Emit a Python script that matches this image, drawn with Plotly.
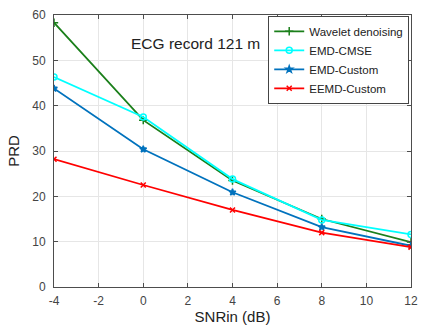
import plotly.graph_objects as go

snr = [-4, 0, 4, 8, 12]
wavelet = [58.3, 36.8, 23.5, 15.0, 9.9]
emd_cmse = [46.3, 37.5, 23.8, 14.8, 11.6]
emd_custom = [43.8, 30.4, 20.9, 13.2, 9.1]
eemd_custom = [28.2, 22.5, 17.0, 12.0, 8.8]

x_ticks = [-4, -2, 0, 2, 4, 6, 8, 10, 12]
x_ticktext = ["-4", "-2", "0", "2", "4", "6", "8", "10", "12"]
y_ticks = [0, 10, 20, 30, 40, 50, 60]

series = [
    ("Wavelet denoising", wavelet, "#1a7f1a", "cross-thin-open", 6),
    ("EMD-CMSE", emd_cmse, "#00ffff", "circle-open", 6),
    ("EMD-Custom", emd_custom, "#0072BD", "star", 5),
    ("EEMD-Custom", eemd_custom, "#ff0000", "x-thin-open", 5),
]

fig = go.Figure()
for name, ys, col, sym, sz in series:
    fig.add_trace(go.Scatter(
        x=snr, y=ys, name=name, mode="lines+markers",
        line=dict(color=col, width=1.8),
        marker=dict(symbol=sym, size=sz, color=col, line=dict(color=col, width=1.5)),
    ))

axcol = "#4d4d4d"
fig.update_layout(
    width=426, height=331,
    margin=dict(l=54, r=8, t=14, b=41),
    paper_bgcolor="white", plot_bgcolor="white",
    font=dict(family="Liberation Sans, Arial", color="#333333", size=12),
    showlegend=True,
    legend=dict(x=0.995, y=0.997, xanchor="right", yanchor="top",
                bordercolor="#444444", borderwidth=1, bgcolor="white",
                font=dict(size=11.5, color="#222222"),
                tracegroupgap=0, itemwidth=30),
    annotations=[dict(text="ECG record 121 m", xref="paper", yref="paper",
                      x=0.395, y=0.935, showarrow=False,
                      font=dict(size=15.5, color="#222222"))],
)
fig.update_xaxes(range=[-4, 12], tickvals=x_ticks, ticktext=x_ticktext,
                 showgrid=True, gridcolor="#e6e6e6", zeroline=False,
                 showline=True, linecolor=axcol, mirror="ticks",
                 ticks="inside", ticklen=4, tickcolor=axcol, ticklabelstandoff=3,
                 tickfont=dict(size=12, color="#444444"),
                 title=dict(text="SNRin (dB)", font=dict(size=15, color="#222222"), standoff=4))
fig.update_yaxes(range=[0, 60], tickvals=y_ticks,
                 showgrid=True, gridcolor="#e6e6e6", zeroline=False,
                 showline=True, linecolor=axcol, mirror="ticks",
                 ticks="inside", ticklen=4, tickcolor=axcol, ticklabelstandoff=5,
                 tickfont=dict(size=12, color="#444444"),
                 title=dict(text="PRD", font=dict(size=15, color="#222222"), standoff=8))

fig.write_html("out.html")
